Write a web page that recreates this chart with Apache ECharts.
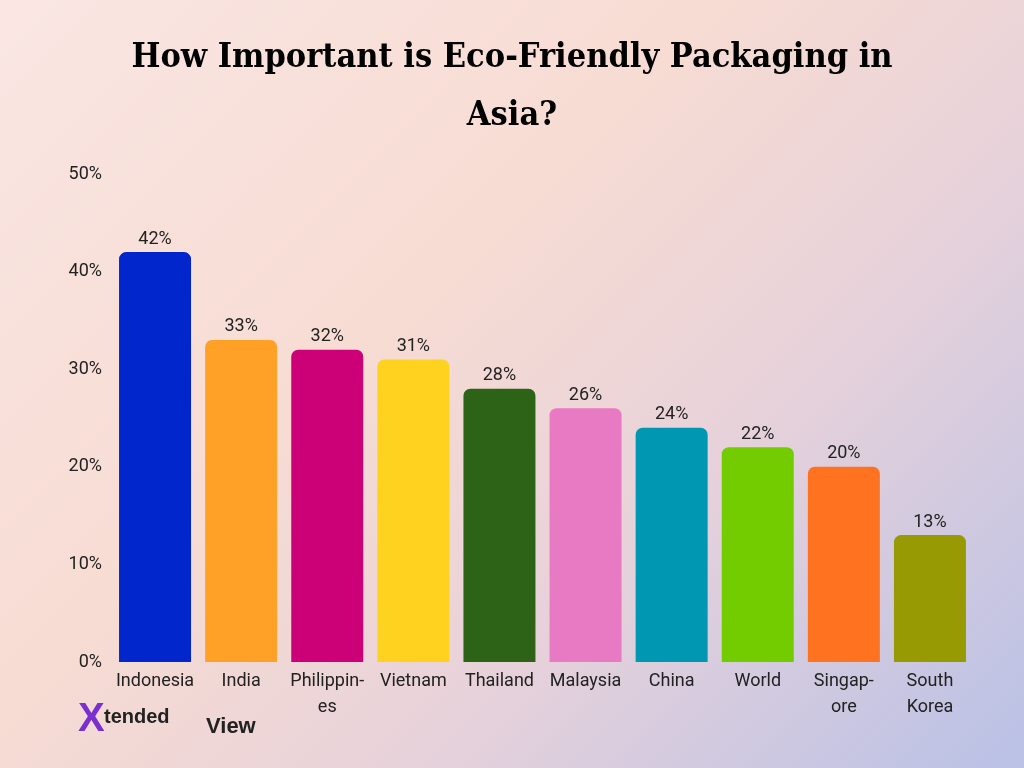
<!DOCTYPE html>
<html><head><meta charset="utf-8">
<script src="https://cdn.jsdelivr.net/npm/echarts@6/dist/echarts.min.js"></script>
<style>
html,body{margin:0;padding:0;}
#chart{width:1024px;height:768px;background:linear-gradient(135deg,#fae6e3 0%,#f7dcd3 40%,#e8d2da 65%,#b9c1e6 100%);}
</style></head>
<body><div id="chart"></div>
<script>
var countries = ['Indonesia', 'India', 'Philippin-\nes', 'Vietnam', 'Thailand', 'Malaysia', 'China', 'World', 'Singap-\nore', 'South\nKorea'];
var shares = [42, 33, 32, 31, 28, 26, 24, 22, 20, 13];
var colors = ['#0026cc', '#ffa126', '#cc0077', '#ffd21f', '#2d6317', '#e87ac3', '#0097b2', '#72cc00', '#ff7220', '#989a04'];

var chart = echarts.init(document.getElementById('chart'), null, {renderer: 'canvas'});
chart.setOption({
    backgroundColor: 'transparent',
    animation: false,
    title: {
        text: 'How Important is Eco-Friendly Packaging in\nAsia?',
        left: 'center',
        top: 24,
        textStyle: {
            fontFamily: 'DejaVu Serif Condensed',
            fontWeight: 'bold',
            fontSize: 34,
            lineHeight: 58,
            color: '#000'
        }
    },
    grid: {left: 112, right: 51, top: 174, bottom: 106},
    xAxis: {
        type: 'category',
        data: countries,
        axisLine: {show: false},
        axisTick: {show: false},
        axisLabel: {color: '#222', fontSize: 18, fontFamily: 'Roboto', margin: 6, lineHeight: 26, interval: 0}
    },
    yAxis: {
        type: 'value',
        min: 0, max: 50, interval: 10,
        splitLine: {show: false},
        axisLabel: {formatter: '{value}%', color: '#222', fontSize: 18, fontFamily: 'Roboto', margin: 10}
    },
    series: [{
        type: 'bar',
        barWidth: 72,
        data: shares.map(function (v, i) {
            return {value: v, itemStyle: {color: colors[i], borderRadius: [7, 7, 0, 0]}};
        }),
        label: {show: true, position: 'top', formatter: '{c}%', color: '#222', fontSize: 18, fontFamily: 'Roboto', distance: 4}
    }],
    graphic: [
        {type: 'text', left: 78, top: 700, style: {text: 'X', fontSize: 40, fontWeight: 'bold', fontFamily: 'Liberation Sans', fill: '#7a2fd0'}},
        {type: 'text', left: 104, top: 707, style: {text: 'tended', fontSize: 20, fontWeight: 'bold', fontFamily: 'Liberation Sans', fill: '#222'}},
        {type: 'text', left: 206, top: 716, style: {text: 'View', fontSize: 22, fontWeight: 'bold', fontFamily: 'Liberation Sans', fill: '#222'}}
    ]
});
</script>
</body></html>
